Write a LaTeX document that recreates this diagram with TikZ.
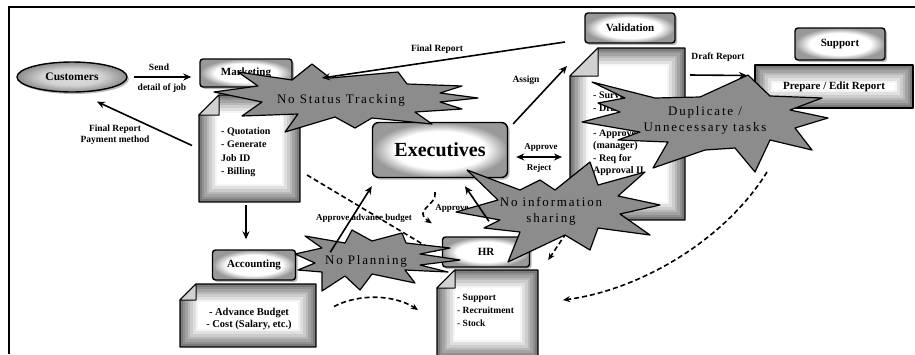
\documentclass[tikz,border=0pt]{standalone}
\usepackage{fontspec}
\setmainfont{Liberation Serif}
\usetikzlibrary{arrows.meta,shadows,calc,shapes.geometric}

\pgfdeclareradialshading{boxshade}{\pgfpoint{0bp}{0bp}}{color(0bp)=(white); color(17bp)=(white); color(25bp)=(black!40); color(50bp)=(black!40)}
\pgfdeclareradialshading{ellshade}{\pgfpoint{0bp}{0bp}}{color(0bp)=(black!12); color(14bp)=(black!18); color(25bp)=(black!45); color(50bp)=(black!45)}

% layered document shape: x0 y0 x1 y1 fold name
\newcommand\myLayered[6]{%
  \begin{scope}
    \clip (#1,#2+#5) -- (#1+#5,#2) -- (#3,#2) -- (#3,#4) -- (#1,#4) -- cycle;
    \fill[black!52] (#1,#2) rectangle (#3,#4);
    \foreach \i in {1,...,7}{%
      \pgfmathtruncatemacro\lv{max(0,52-8*\i)}%
      \fill[black!\lv] (#1+2.6*\i,#2+2.6*\i) rectangle (#3-2.6*\i,#4-2.6*\i);}
  \end{scope}
  \draw[line width=1.3pt, line join=round] (#1,#2+#5) -- (#1+#5,#2) -- (#3,#2) -- (#3,#4) -- (#1,#4) -- cycle;
  \ifnum#5>0
    \draw[line width=1pt, fill=black!18, line join=round] (#1,#2+#5) -- (#1+#5,#2+#5) -- (#1+#5,#2) -- cycle;
  \fi
  \node[inner sep=0pt, outer sep=0pt, minimum width={(#3)-(#1)}, minimum height={(#4)-(#2)}] (#6) at ({(#1+#3)/2},{(#2+#4)/2}) {};
}

\begin{document}
\begin{tikzpicture}[x=1pt,y=-1pt,
  box/.style={draw=black, line width=1.4pt, rounded corners=3pt, shading=boxshade,
    drop shadow={shadow xshift=2pt,shadow yshift=-2pt,fill=black!55},
    font=\fontsize{11}{12}\selectfont\bfseries, inner sep=0pt},
  arr/.style={line width=1.6pt, -{Stealth[length=8pt,width=7pt]}},
  darr/.style={line width=1.6pt, dash pattern=on 5pt off 3pt, -{Stealth[length=7pt,width=6pt]}},
  lbl/.style={font=\fontsize{9.5}{11}\selectfont\bfseries, inner sep=0pt, align=center},
  slbl/.style={font=\fontsize{9}{10}\selectfont\bfseries, inner sep=0pt},
  doctxt/.style={font=\fontsize{10}{13.5}\selectfont\bfseries, align=left, inner sep=0pt},
  starb/.style={fill=black!45, draw=black, line width=1.2pt, line join=round},
  startxt/.style={font=\fontsize{13}{16}\selectfont\addfontfeature{LetterSpace=14}, align=center, inner sep=0pt}
]
\useasboundingbox (0,0) rectangle (915,354);
% frame
\draw[line width=1.3pt] (9,354) -- (9,7) -- (915,7);

% boxes
\node[ellipse, draw=black, line width=1.4pt, shading=ellshade,
  drop shadow={shadow xshift=2pt,shadow yshift=-2pt,fill=black!55},
  minimum width=110pt, minimum height=30pt, inner sep=0pt,
  font=\fontsize{11.5}{12}\selectfont\bfseries] (cust) at (72,77) {Customers};
\node[box, minimum width=92pt, minimum height=28pt] (mkt) at (246,73) {Marketing};
\node[box, minimum width=83pt, minimum height=30pt] (acc) at (254,265) {Accounting};
\node[box, minimum width=90pt, minimum height=30pt] (val) at (630,28) {Validation};
\node[box, minimum width=90pt, minimum height=32pt] (sup) at (840,44) {Support};
\node[box, minimum width=87pt, minimum height=30pt] (hr) at (486,252) {HR};
\node[box, rounded corners=6pt, minimum width=135pt, minimum height=55pt,
  font=\fontsize{20}{22}\selectfont\bfseries] (exe) at (440,150) {Executives};

% documents
\myLayered{199}{95}{300}{202}{20}{mktdoc}
\myLayered{180}{284}{316}{347}{16}{accdoc}
\myLayered{570}{48}{685}{220}{28}{valdoc}
\myLayered{437}{270}{538}{358}{18}{hrdoc}
\myLayered{755}{65}{913}{108}{0}{prep}

\node[doctxt, anchor=north west] (mktdocT) at (221,127) {- Quotation\\- Generate\\Job ID\\- Billing};
\node[doctxt, font=\fontsize{10.5}{12}\selectfont\bfseries, align=center] (accdocT) at (249,319) {- Advance Budget\\- Cost (Salary, etc.)};
\node[doctxt, font=\fontsize{10}{12.5}\selectfont\bfseries, anchor=north west] (valdocT) at (593,92) {- Survey\\- Draft\\[12.5pt]- Approve\\(manager)\\- Req for\\Approval II};
\node[doctxt, font=\fontsize{9.5}{13}\selectfont\bfseries, anchor=north west] (hrdocT) at (457,294) {- Support\\- Recruitment\\- Stock};
\node[font=\fontsize{11}{12}\selectfont\bfseries, inner sep=0pt] (prepT) at (prep.center) {Prepare / Edit Report};

% dashed connectors (behind the starbursts)
\coordinate (dStart) at (767,172);
\draw[darr] (dStart) .. controls (725,240) and (640,290) .. ([shift={(25,-14)}]hrdoc.east);
\draw[darr] ([shift={(18,-9)}]accdoc.east) .. controls (360,293) and (395,295) .. ([shift={(-19,-4)}]hrdoc.west);
\draw[darr] ([shift={(7,-27)}]mktdoc.south east) -- ([shift={(-6,0)}]hr.west);
\draw[darr] ([shift={(-5,14)}]exe.south) .. controls (438,205) and (412,210) .. ([shift={(-10,-13)}]hr.north west);
\draw[darr] ([shift={(5,0)}]valdoc.south west) -- ([shift={(18,8)}]hr.east);

% labels
\node[lbl] (lSend) at (159,67) {Send};
\node[lbl] (lDetail) at (162,88) {detail of job};
\node[lbl] (lFR1) at (115,135) {Final Report\\Payment method};
\node[lbl] (lFR2) at (437,49) {Final Report};
\node[lbl] (lAssign) at (526,80) {Assign};
\node[slbl] (lApprove) at (541,147) {Approve};
\node[slbl] (lReject) at (539,168) {Reject};
\node[lbl] (lDraft) at (718,57) {Draft Report};
\node[slbl] (lAAB) at (364,218) {Approve advance budget};
\node[slbl] (lAppr) at (452,208) {Approve};

% starbursts
\draw[starb] (214,92) -- (258,86) -- (238,72) -- (292,80) -- (312,64) -- (330,78) -- (398,72) -- (407,84) -- (462,86) -- (440,93) -- (478,98) -- (440,102) -- (462,109) -- (415,112) -- (432,124) -- (372,118) -- (355,128) -- (335,117) -- (285,132) -- (298,114) -- (242,116) -- (262,102) -- cycle;
\node[startxt] (sStatus) at (341,100) {No Status Tracking};

\draw[starb] (295,254) -- (322,248) -- (305,236) -- (345,243) -- (352,230) -- (372,241) -- (402,233) -- (406,243) -- (450,248) -- (420,254) -- (460,260) -- (420,265) -- (448,272) -- (405,270) -- (415,283) -- (372,274) -- (360,290) -- (345,276) -- (322,291) -- (322,272) -- (298,270) -- (315,263) -- cycle;
\node[startxt] (sPlan) at (366,261) {No Planning};

\draw[starb] (467,170) -- (520,190) -- (540,180) -- (555,190) -- (590,162) -- (598,185) -- (645,172) -- (618,196) -- (660,205) -- (620,214) -- (650,235) -- (598,228) -- (590,250) -- (565,235) -- (508,262) -- (520,232) -- (484,228) -- (500,220) -- (456,212) -- (498,200) -- cycle;
\node[startxt] (sInfo) at (551,211) {No information\\sharing};

\draw[starb] (592,82) -- (655,98) -- (700,97) -- (748,75) -- (770,96) -- (822,98) -- (790,110) -- (828,118) -- (795,128) -- (812,150) -- (770,140) -- (755,172) -- (735,148) -- (705,150) -- (653,168) -- (668,142) -- (618,140) -- (640,132) -- (582,122) -- (620,112) -- (598,103) -- (625,98) -- cycle;
\node[startxt] (sDup) at (705,120) {Duplicate /\\Unnecessary tasks};

% solid connectors
\coordinate (frEnd) at (322,78);
\draw[arr] ([shift={(6,0)}]cust.east) -- ([shift={(-8,4)}]mkt.west);
\draw[arr] ([shift={(-7,-3)}]mktdoc.west) -- ([shift={(25,9)}]cust.south);
\draw[arr] ([shift={(-5,-6)}]valdoc.north west) -- (frEnd);
\draw[arr] ([shift={(5,2)}]exe.north east) -- ([shift={(-3,18)}]valdoc.north west);
\draw[line width=1.6pt, {Stealth[length=8pt,width=7pt]}-{Stealth[length=8pt,width=7pt]}] ([shift={(8,7)}]exe.east) -- ([shift={(-8,7)}]exe.east -| valdoc.west);
\draw[arr] ([shift={(5,27)}]valdoc.north east) -- ([shift={(-8,-11)}]prep.west);
\draw[arr] (mktdoc.south -| mkt.south) ++(0,3) -- ([shift={(0,-10)}]mkt.south |- acc.north);
\draw[arr] ([shift={(34,3)}]acc.north east) -- ([shift={(0,8)}]exe.south west);
\draw[arr] ([shift={(3,-15)}]hr.north) -- ([shift={(25,8)}]exe.south);
\end{tikzpicture}
\end{document}
